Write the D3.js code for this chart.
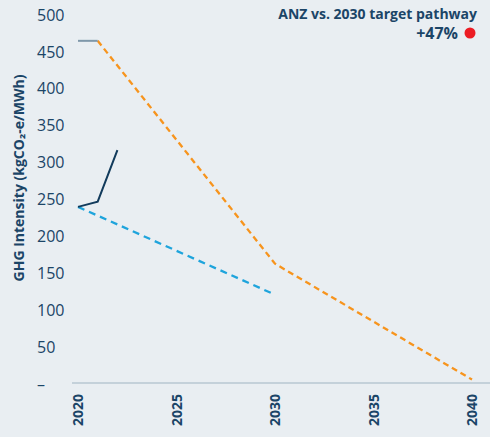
<!DOCTYPE html>
<html>
<head>
<meta charset="utf-8">
<script src="https://cdn.jsdelivr.net/npm/d3@7"></script>
<style>
  body { margin: 0; background: #e9eef2; }
  svg { display: block; font-family: "Open Sans", "Noto Sans", sans-serif; }
</style>
</head>
<body>
<svg id="chart" width="490" height="437"></svg>
<script>
// 数据
var yearTicks = [2020, 2025, 2030, 2035, 2040];
var valueTicks = [0, 50, 100, 150, 200, 250, 300, 350, 400, 450, 500];
var baselineYears = [2020, 2021];
var baselineValues = [465, 465];
var targetYears = [2021, 2030, 2040];
var targetValues = [465, 163, 6];
var pathwayYears = [2020, 2030];
var pathwayValues = [240, 121];
var actualYears = [2020, 2021, 2022];
var actualValues = [240, 247, 317];

var navy = "#1b4567";
var svg = d3.select("#chart");

var x = d3.scaleLinear().domain([2020, 2040]).range([78, 472]);
var y = d3.scaleLinear().domain([0, 500]).range([384, 15]);

// 底部的横线
svg.append("line")
	.attr("x1", 72).attr("x2", 490)
	.attr("y1", y(0) - 1).attr("y2", y(0) - 1)
	.style("stroke", "#b7c7d2").style("stroke-width", 1.5);

// y轴刻度（左对齐）
svg.selectAll(".ytick").data(valueTicks).enter()
	.append("text")
	.attr("x", 37).attr("y", function (d) { return y(d); })
	.attr("dy", "0.35em")
	.style("font-size", "16px").style("fill", navy)
	.text(function (d) { return d == 0 ? "–" : d; });

// x轴刻度（竖排）
svg.selectAll(".xtick").data(yearTicks).enter()
	.append("text")
	.attr("transform", function (d) { return "translate(" + x(d) + ",394) rotate(-90)"; })
	.attr("text-anchor", "end").attr("dy", "0.36em")
	.style("font-size", "14px").style("font-weight", 700).style("fill", navy)
	.text(function (d) { return d; });

// y轴标题
svg.append("text")
	.attr("transform", "translate(19,178) rotate(-90)")
	.attr("text-anchor", "middle").attr("dy", "0.35em")
	.style("font-size", "14px").style("font-weight", 700).style("fill", navy)
	.text("GHG Intensity (kgCO₂-e/MWh)");

function drawLine(xs, vs, color, width, dash) {
	var pts = xs.map(function (d, i) { return [d, vs[i]]; });
	var line = d3.line().x(function (d) { return x(d[0]); }).y(function (d) { return y(d[1]); });
	svg.append("path")
		.attr("d", line(pts))
		.style("fill", "none").style("stroke", color)
		.style("stroke-width", width)
		.style("stroke-dasharray", dash || null);
}

drawLine(pathwayYears, pathwayValues, "#1ea4dc", 2.3, "7,5");
drawLine(targetYears, targetValues, "#f7941d", 2.3, "6,4");
drawLine(baselineYears, baselineValues, "#7f98aa", 2);
drawLine(actualYears, actualValues, "#123b5c", 2);

// 右上角注释
svg.append("text")
	.attr("x", 477).attr("y", 19)
	.attr("text-anchor", "end")
	.style("font-size", "14px").style("font-weight", 700).style("fill", navy)
	.text("ANZ vs. 2030 target pathway");
svg.append("text")
	.attr("x", 458).attr("y", 39)
	.attr("text-anchor", "end")
	.style("font-size", "16px").style("font-weight", 700).style("fill", navy)
	.text("+47%");
svg.append("circle")
	.attr("cx", 470).attr("cy", 33).attr("r", 5.5)
	.style("fill", "#ec1c24");
</script>
</body>
</html>
